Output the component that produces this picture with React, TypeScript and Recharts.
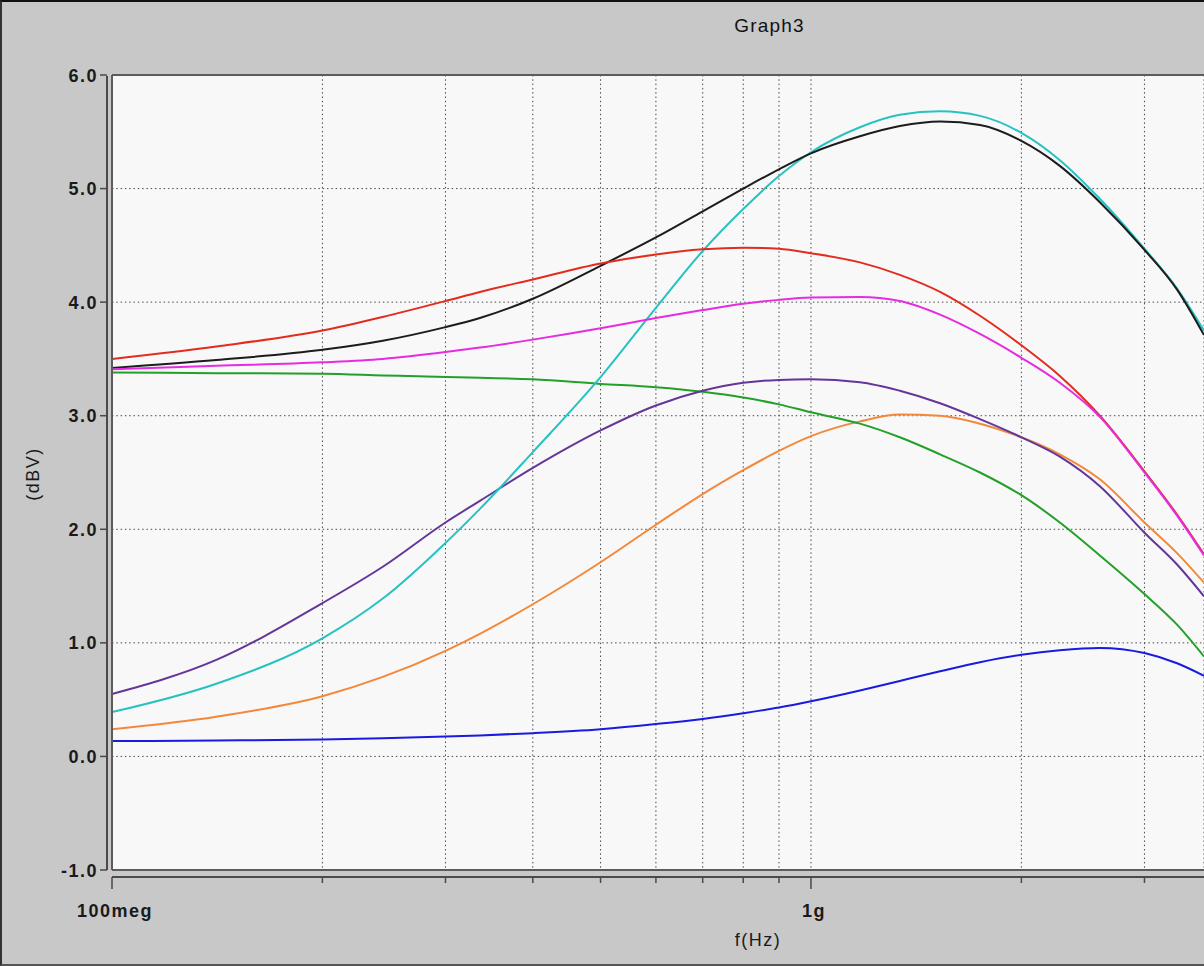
import React from 'react';
import { LineChart, Line, XAxis, YAxis, CartesianGrid, ReferenceLine } from 'recharts';

// frequency samples (Hz)
const freqs = [1e8, 1.41e8, 2e8, 2.44e8, 3e8, 3.36e8, 4e8, 5e8, 6e8, 7e8, 8e8, 9e8, 1e9, 1.175e9, 1.34e9, 1.53e9, 1.745e9, 2e9, 2.27e9, 2.59e9, 3e9, 3.34e9, 3.65e9];

// series values (dBV)
const redVals = [3.5, 3.61, 3.75, 3.87, 4.01, 4.09, 4.2, 4.34, 4.42, 4.465, 4.48, 4.47, 4.43, 4.35, 4.24, 4.09, 3.88, 3.62, 3.35, 3.0, 2.51, 2.13, 1.78];
const blackVals = [3.42, 3.49, 3.58, 3.66, 3.78, 3.86, 4.03, 4.32, 4.57, 4.8, 5.0, 5.17, 5.31, 5.46, 5.55, 5.59, 5.56, 5.42, 5.2, 4.88, 4.46, 4.11, 3.71];
const cyanVals = [0.39, 0.64, 1.04, 1.39, 1.88, 2.18, 2.68, 3.34, 3.95, 4.45, 4.82, 5.11, 5.32, 5.54, 5.65, 5.68, 5.64, 5.49, 5.25, 4.91, 4.47, 4.12, 3.75];
const magentaVals = [3.41, 3.44, 3.47, 3.5, 3.56, 3.6, 3.67, 3.77, 3.86, 3.93, 3.985, 4.02, 4.04, 4.045, 4.01, 3.89, 3.72, 3.51, 3.29, 2.99, 2.5, 2.12, 1.77];
const greenVals = [3.38, 3.375, 3.37, 3.355, 3.34, 3.335, 3.32, 3.28, 3.25, 3.21, 3.16, 3.1, 3.03, 2.93, 2.81, 2.66, 2.5, 2.3, 2.06, 1.77, 1.43, 1.16, 0.88];
const purpleVals = [0.55, 0.85, 1.35, 1.67, 2.06, 2.25, 2.54, 2.87, 3.09, 3.22, 3.29, 3.315, 3.32, 3.295, 3.22, 3.11, 2.97, 2.81, 2.64, 2.38, 1.97, 1.69, 1.41];
const orangeVals = [0.24, 0.35, 0.53, 0.7, 0.93, 1.08, 1.34, 1.71, 2.04, 2.31, 2.52, 2.69, 2.82, 2.95, 3.01, 3.0, 2.93, 2.81, 2.66, 2.44, 2.06, 1.79, 1.53];
const blueVals = [0.135, 0.14, 0.15, 0.16, 0.175, 0.185, 0.205, 0.24, 0.285, 0.33, 0.38, 0.43, 0.485, 0.58, 0.665, 0.75, 0.83, 0.895, 0.935, 0.955, 0.91, 0.82, 0.71];

// axis ticks
const xTicks = [1e8, 2e8, 3e8, 4e8, 5e8, 6e8, 7e8, 8e8, 9e8, 1e9, 2e9, 3e9];
const xTickLabels = ['100meg', '', '', '', '', '', '', '', '', '1g', '', ''];
const yTicks = [-1, 0, 1, 2, 3, 4, 5, 6];

const rows = freqs.map((f, i) => ({
  f,
  blue: blueVals[i],
  orange: orangeVals[i],
  green: greenVals[i],
  purple: purpleVals[i],
  cyan: cyanVals[i],
  black: blackVals[i],
  red: redVals[i],
  magenta: magentaVals[i],
}));

const series = [
  { key: 'blue', color: '#1a1ae0' },
  { key: 'orange', color: '#f4883a' },
  { key: 'green', color: '#22a028' },
  { key: 'purple', color: '#64369a' },
  { key: 'cyan', color: '#26c2c2' },
  { key: 'black', color: '#1c1c1c' },
  { key: 'red', color: '#e22c1e' },
  { key: 'magenta', color: '#e62ce0' },
];

const FONT = '"Liberation Sans", Arial, Helvetica, sans-serif';
const AXIS = '#4a4a4a';

const renderXTick = (props: any) => {
  const { x, y, index } = props;
  const label = xTickLabels[index] || '';
  const major = label !== '';
  return (
    <g key={`xt-${index}`}>
      <line x1={x} x2={x} y1={y + 7} y2={y + (major ? 19 : 13)} stroke={AXIS} strokeWidth={1.5} />
      {major && (
        <text x={x + 3} y={y + 47} textAnchor="middle" fontFamily={FONT} fontSize={18} fontWeight="bold" letterSpacing={1.5} fill="#1a1a1a">
          {label}
        </text>
      )}
    </g>
  );
};

const renderYTick = (props: any) => {
  const { x, y, payload, index } = props;
  return (
    <g key={`yt-${index}`}>
      <line x1={x - 12} x2={x - 5} y1={y} y2={y} stroke={AXIS} strokeWidth={1.5} />
      <text x={x - 14} y={y + 6.5} textAnchor="end" fontFamily={FONT} fontSize={18} fontWeight="bold" letterSpacing={1.5} fill="#1a1a1a">
        {Number(payload.value).toFixed(1)}
      </text>
    </g>
  );
};

export default function App() {
  return (
    <div style={{ position: 'fixed', left: 0, top: 0, width: 1204, height: 966, background: '#c8c8c8', overflow: 'hidden' }}>
      <LineChart width={1204} height={966} data={rows} margin={{ top: 75, right: 0, left: 0, bottom: 0 }}>
        <CartesianGrid stroke="#4a4a4a" strokeDasharray="1.5 2.8" fill="#f8f8f8" fillOpacity={1} />
        <XAxis
          dataKey="f"
          type="number"
          scale="log"
          domain={[1e8, 3.65e9]}
          allowDataOverflow
          ticks={xTicks}
          interval={0}
          height={96}
          tickSize={0}
          tickMargin={0}
          tickLine={false}
          axisLine={{ stroke: '#5c5c5c', strokeWidth: 2 }}
          tick={renderXTick}
        />
        <YAxis
          type="number"
          domain={[-1, 6]}
          ticks={yTicks}
          interval={0}
          width={112}
          tickSize={0}
          tickMargin={0}
          tickLine={false}
          axisLine={{ stroke: '#5c5c5c', strokeWidth: 2 }}
          tick={renderYTick}
        />
        <ReferenceLine y={6} stroke="#5c5c5c" strokeWidth={2} />
        <ReferenceLine
          y={-1}
          shape={(p: any) => (
            <line x1={p.x1} x2={p.x2} y1={p.y1 + 7} y2={p.y2 + 7} stroke={AXIS} strokeWidth={2} />
          )}
        />
        <ReferenceLine
          x={1e8}
          shape={(p: any) => (
            <line x1={p.x1 - 5} x2={p.x2 - 5} y1={p.y1} y2={p.y2 + 1} stroke={AXIS} strokeWidth={2} />
          )}
        />
        {series.map((s) => (
          <Line
            key={s.key}
            type="monotone"
            dataKey={s.key}
            stroke={s.color}
            strokeWidth={2}
            dot={false}
            activeDot={false}
            isAnimationActive={false}
          />
        ))}
      </LineChart>
      <svg width={1204} height={966} style={{ position: 'absolute', left: 0, top: 0, pointerEvents: 'none' }}>
        <text x={769.5} y={32} textAnchor="middle" fontFamily={FONT} fontSize={19} letterSpacing={1.2} fill="#111">
          Graph3
        </text>
        <text x={758} y={946} textAnchor="middle" fontFamily={FONT} fontSize={18} letterSpacing={1.5} fill="#1a1a1a">
          f(Hz)
        </text>
        <text x={39} y={474} textAnchor="middle" transform="rotate(-90 39 474)" fontFamily={FONT} fontSize={18} letterSpacing={1.5} fill="#1a1a1a">
          (dBV)
        </text>
      </svg>
      <div
        style={{
          position: 'absolute',
          left: 0,
          top: 0,
          width: 1204,
          height: 966,
          boxSizing: 'border-box',
          borderTop: '2px solid #111',
          borderLeft: '2px solid #333',
          borderBottom: '2px solid #555',
          pointerEvents: 'none',
        }}
      />
    </div>
  );
}
